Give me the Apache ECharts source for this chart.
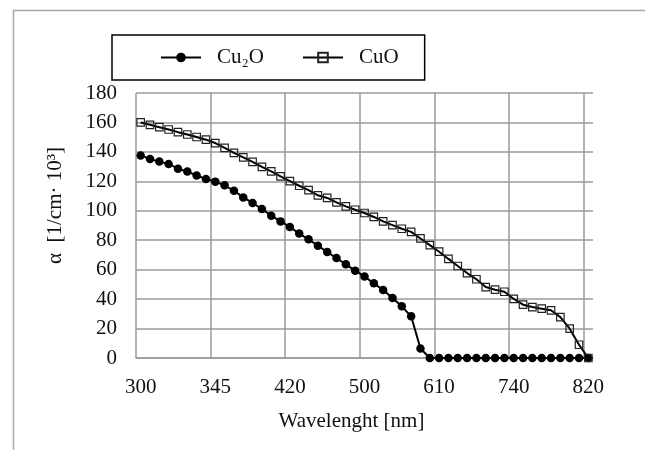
<!DOCTYPE html>
<html>
<head>
<meta charset="utf-8">
<script src="https://cdn.jsdelivr.net/npm/echarts@6/dist/echarts.min.js"></script>
<style>
html,body{margin:0;padding:0;background:#fff;}
#chart{width:645px;height:450px;}
</style>
</head>
<body>
<div id="chart"></div>
<script>
// Wavelength categories (nm); only every 8th is labelled in the reference
const wavelengths = [
  300, 306, 311, 317, 323, 328, 334, 339,
  345, 354, 364, 373, 383, 392, 401, 411,
  420, 430, 440, 450, 460, 470, 480, 490,
  500, 514, 528, 541, 555, 569, 583, 596,
  610, 626, 643, 659, 675, 691, 708, 724,
  740, 750, 760, 770, 780, 790, 800, 810,
  820
];
const seriesNames = ['Cu₂O', 'CuO'];
const cu2o = [
  137.6, 135.2, 133.4, 131.8, 128.6, 126.6, 124.0, 121.6,
  119.8, 117.3, 113.6, 109.1, 105.3, 101.2, 96.7, 92.8,
  89.0, 84.5, 80.6, 76.3, 72.0, 67.9, 63.6, 59.3,
  55.4, 50.7, 46.2, 40.8, 35.1, 28.3, 6.5, 0,
  0, 0, 0, 0, 0, 0, 0, 0,
  0, 0, 0, 0, 0, 0, 0, 0,
  0
];
const cuo = [
  160.0, 158.4, 156.8, 155.2, 153.4, 151.8, 150.1, 148.3,
  146.0, 142.7, 139.3, 136.3, 133.2, 129.8, 126.8, 123.4,
  120.2, 117.0, 114.0, 110.5, 108.7, 105.7, 103.0, 100.7,
  98.5, 95.8, 92.8, 90.3, 87.8, 85.7, 81.2, 76.7,
  72.2, 67.3, 62.5, 57.7, 53.5, 48.2, 46.4, 45.0,
  40.1, 36.2, 34.6, 33.5, 32.4, 27.8, 19.9, 9.0,
  0
];
const yTicks = {min: 0, max: 180, step: 20};

const FONT = '"Liberation Serif", "Times New Roman", serif';
const GRID_COLOR = '#9a9a9a';

const chart = echarts.init(document.getElementById('chart'), null, {renderer: 'canvas'});
chart.setOption({
  animation: false,
  backgroundColor: '#ffffff',
  graphic: [
    {type: 'line', shape: {x1: 13, y1: 10.5, x2: 645, y2: 10.5}, style: {stroke: '#a8a8a8', lineWidth: 1.5}, silent: true},
    {type: 'line', shape: {x1: 13.5, y1: 10, x2: 13.5, y2: 450}, style: {stroke: '#a8a8a8', lineWidth: 1.5}, silent: true}
  ],
  legend: {
    left: 112,
    top: 35,
    orient: 'horizontal',
    data: seriesNames,
    backgroundColor: '#fff',
    borderColor: '#000',
    borderWidth: 1.5,
    borderRadius: 0,
    padding: [12, 26, 12, 48],
    itemWidth: 40,
    itemHeight: 12,
    itemGap: 38,
    textStyle: {fontFamily: FONT, fontSize: 21, color: '#111', padding: [0, 0, 0, 11]}
  },
  grid: {left: 136, right: 52, top: 93, bottom: 92, containLabel: false},
  xAxis: {
    type: 'category',
    data: wavelengths,
    boundaryGap: true,
    name: 'Wavelenght [nm]',
    nameLocation: 'middle',
    nameGap: 53,
    nameTextStyle: {fontFamily: FONT, fontSize: 21, color: '#111', padding: [0, 26, 0, 0]},
    axisLine: {show: true, lineStyle: {color: GRID_COLOR, width: 1.5}},
    axisTick: {show: false},
    axisLabel: {interval: 7, fontFamily: FONT, fontSize: 21, color: '#111', margin: 19},
    splitLine: {
      show: true,
      interval: function (index) { return index % 8 === 0; },
      showMaxLine: false,
      lineStyle: {color: GRID_COLOR, width: 1.5}
    }
  },
  yAxis: {
    type: 'value',
    min: yTicks.min,
    max: yTicks.max,
    interval: yTicks.step,
    name: 'α  [1/cm· 10³]',
    nameLocation: 'middle',
    nameGap: 70,
    nameRotate: 90,
    nameTextStyle: {fontFamily: FONT, fontSize: 21, color: '#111', padding: [0, 0, 0, 40]},
    axisLine: {show: false},
    axisTick: {show: false},
    axisLabel: {fontFamily: FONT, fontSize: 21, color: '#111', margin: 19},
    splitLine: {show: true, lineStyle: {color: GRID_COLOR, width: 1.5}}
  },
  series: [
    {
      name: seriesNames[0],
      type: 'line',
      data: cu2o,
      symbol: 'circle',
      symbolSize: 8.5,
      showAllSymbol: true,
      lineStyle: {color: '#000', width: 2},
      itemStyle: {color: '#000', borderColor: '#000', borderWidth: 0},
      z: 2
    },
    {
      name: seriesNames[1],
      type: 'line',
      data: cuo,
      symbol: 'rect',
      symbolSize: 7.5,
      showAllSymbol: true,
      lineStyle: {color: '#000', width: 2},
      itemStyle: {color: 'rgba(255,255,255,0)', borderColor: '#222', borderWidth: 1.2},
      z: 3
    }
  ]
});
</script>
</body>
</html>
